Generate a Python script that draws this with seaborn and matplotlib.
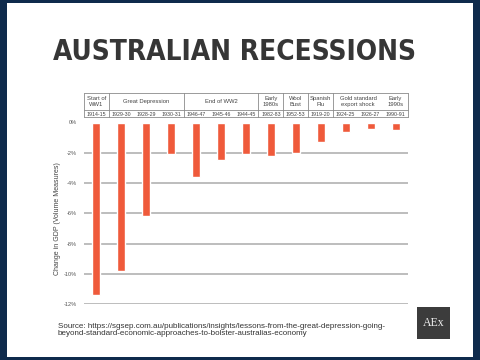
import matplotlib
matplotlib.use("Agg")
import matplotlib.pyplot as plt
import matplotlib.transforms as mtransforms
from matplotlib.patches import Rectangle
from matplotlib.lines import Line2D
from matplotlib import font_manager
import seaborn as sns
import pandas as pd

# Data
years = ["1914-15", "1929-30", "1928-29", "1930-31", "1946-47", "1945-46", "1944-45",
         "1982-83", "1952-53", "1919-20", "1924-25", "1926-27", "1990-91"]
gdp_change = [-11.4, -9.8, -6.2, -2.1, -3.6, -2.5, -2.1, -2.2, -2.0, -1.3, -0.6, -0.4, -0.5]
groups = ["Start of\nWW1", "Great Depression", "End of WW2", "Early\n1980s", "Wool\nBust",
          "Spanish\nFlu", "Gold standard\nexport shock", "Early\n1990s"]
group_sizes = [1, 3, 3, 1, 1, 1, 2, 1]
y_ticks = [0, -2, -4, -6, -8, -10, -12]
y_ticklabels = ["0%", "-2%", "-4%", "-6%", "-8%", "-10%", "-12%"]

title = "AUSTRALIAN RECESSIONS"
ylabel = "Change in GDP (Volume Measures)"
source = ("Source: https://sgsep.com.au/publications/insights/lessons-from-the-great-depression-going-\n"
          "beyond-standard-economic-approaches-to-bolster-australias-economy")

df = pd.DataFrame({"year": years, "change": gdp_change})

sns.set_theme(style="white")
plt.rcParams["font.family"] = ["Liberation Sans", "DejaVu Sans"]

W, H = 480, 360
fig = plt.figure(figsize=(W / 100, H / 100), dpi=100)
fig.patch.set_facecolor("#0e2a4c")


def fx(px):
    return px / W


def fy(py):
    return 1 - py / H


# white card
fig.add_artist(Rectangle((fx(7), fy(357)), fx(466), 354 / H, transform=fig.transFigure,
                         facecolor="white", edgecolor="none", zorder=0))

# chart area
ax_left, ax_right, ax_top, ax_bottom = 84, 408, 122.5, 304
ax = fig.add_axes([fx(ax_left), fy(ax_bottom), fx(ax_right - ax_left), (ax_bottom - ax_top) / H])
ax.set_facecolor("none")

sns.barplot(data=df, x="year", y="change", color="#ef5a3b", saturation=1, width=0.32,
            ax=ax, zorder=3)
ax.set_xlim(-0.5, len(years) - 0.5)
ax.set_ylim(-12, 0)

for t in y_ticks[1:]:
    ax.axhline(t, color="#b8b8b8", lw=1.3, zorder=1)

ax.set_yticks(y_ticks)
ax.set_yticklabels(y_ticklabels, fontsize=4.1, color="#555555")
ax.tick_params(axis="y", length=0, pad=5)
ax.xaxis.tick_top()
ax.set_xticks(range(len(years)))
ax.set_xticklabels(years, fontsize=3.8, color="#444444")
ax.tick_params(axis="x", length=0, pad=3.8)
ax.set_xlabel("")
ax.set_ylabel(ylabel, fontsize=5.0, color="#444444")
ax.yaxis.set_label_coords(-0.071, 0.47)
for s in ax.spines.values():
    s.set_visible(False)

# header table above the bars
trans = mtransforms.blended_transform_factory(ax.transData, fig.transFigure)
lc = "#8a8a8a"
x0, x1 = -0.5, len(years) - 0.5
for py in [93, 110, 117.5]:
    fig.add_artist(Line2D([x0, x1], [fy(py), fy(py)], transform=trans, color=lc, lw=0.6))
start = 0
bounds = [x0]
for g, n in zip(groups, group_sizes):
    center = start + (n - 1) / 2
    fig.text(center, fy(101.5), g, transform=trans, ha="center", va="center",
             fontsize=4.2, color="#444444", linespacing=1.1)
    start += n
    bounds.append(start - 0.5)
# the reference has no divider between the last two groups
bounds = [b for b in bounds if b != sum(group_sizes[:-1]) - 0.5]
for b in bounds:
    fig.add_artist(Line2D([b, b], [fy(93), fy(117.5)], transform=trans, color=lc, lw=0.6))

# title: narrowest bold face available, fitted to the reference width
stretch_rank = {"ultra-condensed": 0, "extra-condensed": 1, "condensed": 2, "semi-condensed": 3}
cands = []
for f in font_manager.fontManager.ttflist:
    wt = f.weight if isinstance(f.weight, int) else font_manager.weight_dict.get(f.weight, 400)
    if f.stretch in stretch_rank and wt >= 600 and f.style == "normal":
        cands.append((stretch_rank[f.stretch], abs(wt - 700), f.fname))
if cands:
    cands.sort()
    title_font = font_manager.FontProperties(fname=cands[0][2])
else:
    title_font = font_manager.FontProperties(family="DejaVu Sans", weight="bold")
tt = fig.text(fx(234.5), fy(52), title, ha="center", va="center", color="#363636",
              fontproperties=title_font)
tt.set_fontsize(30)
renderer = fig.canvas.get_renderer()
w = tt.get_window_extent(renderer).width
tt.set_fontsize(30 * 363 / w)

# source note
fig.text(fx(58), fy(330), source, ha="left", va="center", fontsize=5.75, color="#333333",
         linespacing=0.95)

# logo
fig.add_artist(Rectangle((fx(417), fy(339)), fx(33), 32 / H, transform=fig.transFigure,
                         facecolor="#3c3c3c", edgecolor="none"))
fig.text(fx(433.5), fy(323), "AEx", ha="center", va="center", fontsize=8.5, color="#eeeeee",
         family=["Liberation Serif", "DejaVu Serif"])

fig.savefig("out.png", dpi=100, facecolor=fig.get_facecolor())
